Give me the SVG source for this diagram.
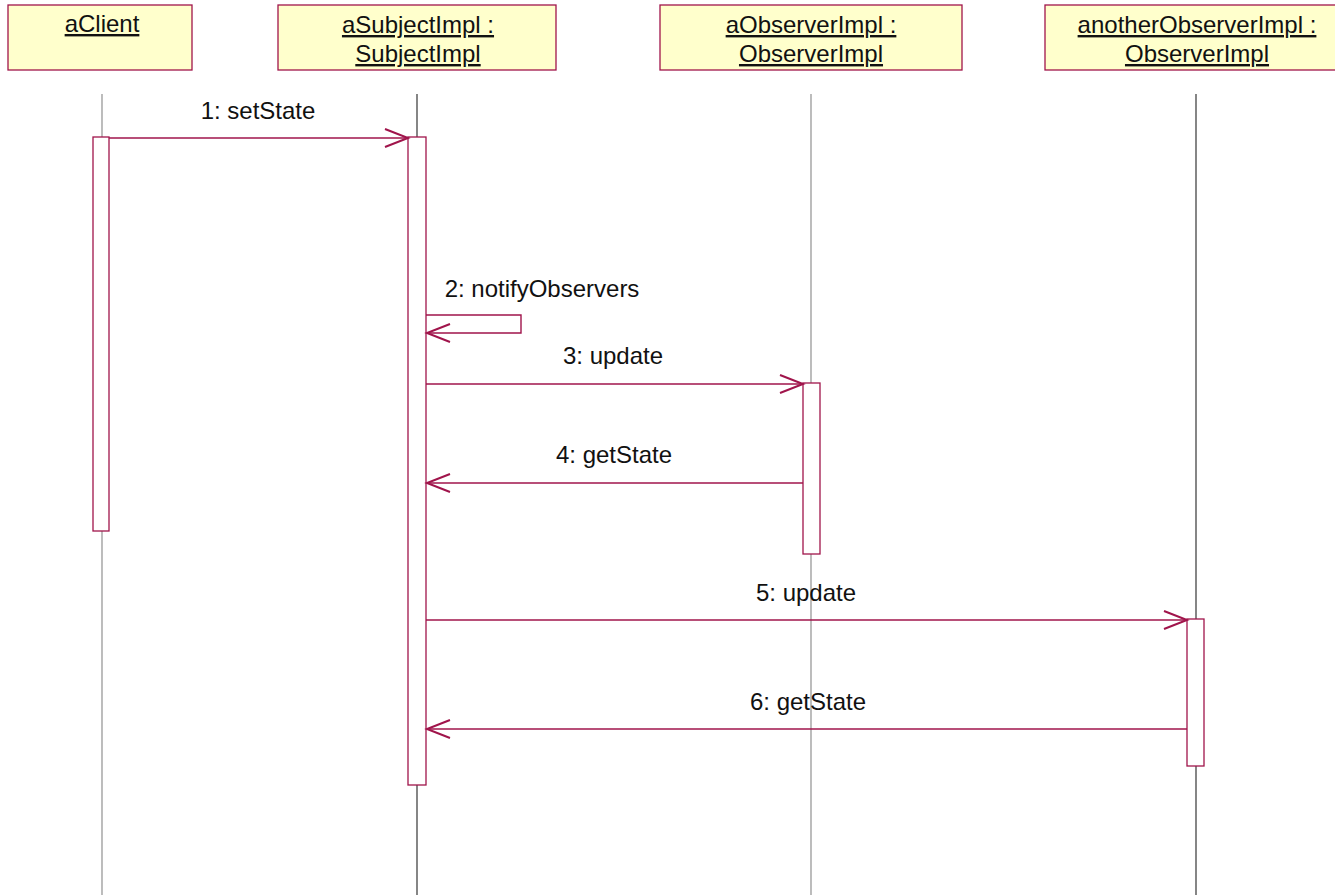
<svg xmlns="http://www.w3.org/2000/svg" width="1335" height="895" viewBox="0 0 1335 895">
<style>
.obj{fill:#FFFFCC;stroke:#A0144B;stroke-width:1.3}
.lbl{font-family:"Liberation Sans",Arial,sans-serif;font-size:24px;fill:#111;text-anchor:middle}
.u{text-decoration:underline}
.life{stroke-width:1.3}
.act{fill:#fff;stroke:#A0144B;stroke-width:1.3}
.msg{fill:none;stroke:#A0144B;stroke-width:1.4}
</style>
<defs>
<marker id="open" markerUnits="userSpaceOnUse" markerWidth="30" markerHeight="24" refX="0" refY="0" viewBox="-25 -12 30 24" orient="auto" overflow="visible">
<path d="M-23,-9 L0,0 L-23,9" fill="none" stroke="#A0144B" stroke-width="2"/>
</marker>
</defs>
<rect width="1335" height="895" fill="#fff"/>
<g id="lifelines">
<line class="life" x1="102" y1="94" x2="102" y2="895" stroke="#999"/>
<line class="life" x1="417" y1="94" x2="417" y2="895" stroke="#444"/>
<line class="life" x1="811" y1="94" x2="811" y2="895" stroke="#999"/>
<line class="life" x1="1196" y1="94" x2="1196" y2="895" stroke="#444"/>
</g>
<g id="aClient">
<rect class="obj" x="8" y="5" width="184" height="65"/>
<text class="lbl u" x="102" y="32">aClient</text>
<rect class="act" x="93" y="137" width="16" height="394"/>
</g>
<g id="aSubjectImpl">
<rect class="obj" x="278" y="5" width="278" height="65"/>
<text class="lbl u" x="418" y="33">aSubjectImpl :</text>
<text class="lbl u" x="418" y="62">SubjectImpl</text>
<rect class="act" x="408" y="137" width="18" height="648"/>
</g>
<g id="aObserverImpl">
<rect class="obj" x="660" y="5" width="302" height="65"/>
<text class="lbl u" x="811" y="33">aObserverImpl :</text>
<text class="lbl u" x="811" y="62">ObserverImpl</text>
<rect class="act" x="803" y="383" width="17" height="171"/>
</g>
<g id="anotherObserverImpl">
<rect class="obj" x="1045" y="5" width="292" height="65"/>
<text class="lbl u" x="1197" y="33">anotherObserverImpl :</text>
<text class="lbl u" x="1197" y="62">ObserverImpl</text>
<rect class="act" x="1187" y="619" width="17" height="147"/>
</g>
<g id="connectors">
<path class="msg" d="M109,138 H408" marker-end="url(#open)"/>
<text class="lbl" x="258" y="119">1: setState</text>
<path class="msg" d="M426,315 H521 V333 H427" marker-end="url(#open)"/>
<text class="lbl" x="542" y="297">2: notifyObservers</text>
<path class="msg" d="M426,384 H803" marker-end="url(#open)"/>
<text class="lbl" x="613" y="364">3: update</text>
<path class="msg" d="M803,483 H427" marker-end="url(#open)"/>
<text class="lbl" x="614" y="463">4: getState</text>
<path class="msg" d="M426,620 H1187" marker-end="url(#open)"/>
<text class="lbl" x="806" y="601">5: update</text>
<path class="msg" d="M1187,729 H427" marker-end="url(#open)"/>
<text class="lbl" x="808" y="710">6: getState</text>
</g>
</svg>
